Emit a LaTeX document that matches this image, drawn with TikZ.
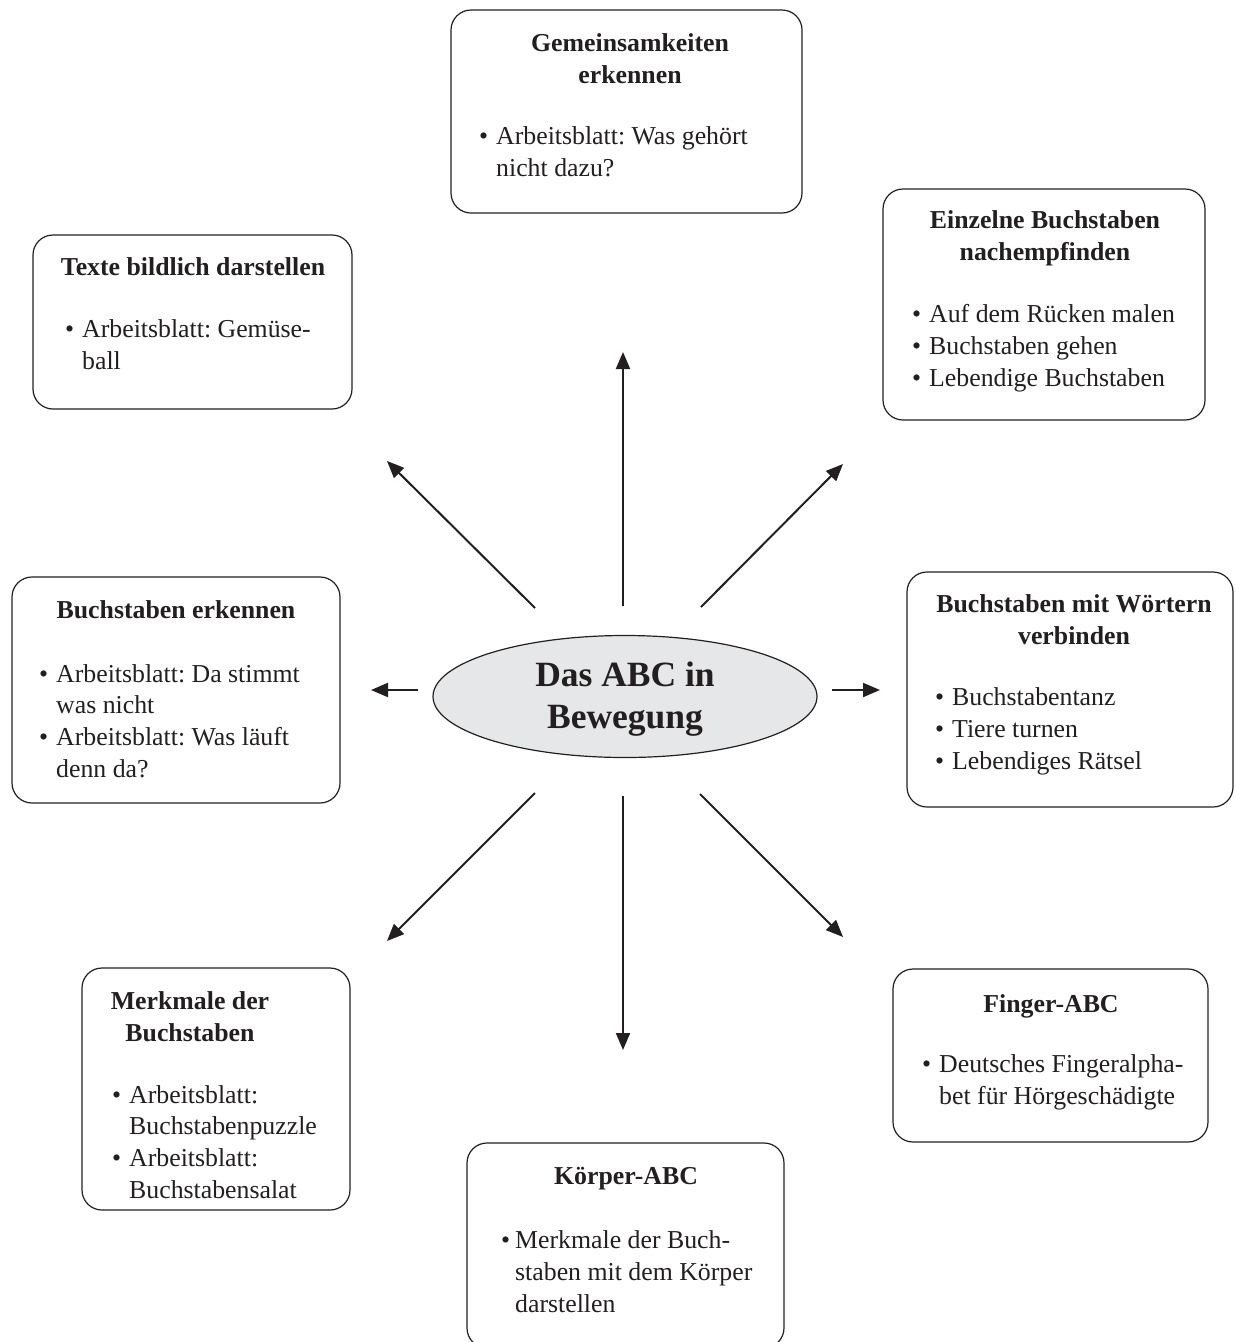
\documentclass[tikz,border=0pt]{standalone}
\usepackage{fontspec}
\setmainfont{Liberation Serif}
\usetikzlibrary{arrows.meta,shapes.geometric}
\frenchspacing
\definecolor{ink}{HTML}{231F20}
\definecolor{ellfill}{HTML}{E6E7E8}
\newcommand\bul{\makebox[17pt][l]{•}}
\newcommand\ind{\hspace*{17pt}}
\newcommand\bulk{\makebox[14pt][l]{•}}
\newcommand\indk{\hspace*{14pt}}
\tikzset{
  box/.style={draw=ink, line width=1.2pt, rounded corners=20pt, inner sep=0pt, fill=white},
  ttl/.style={anchor=base, align=center, inner sep=0pt, text=ink,
              font=\fontsize{25.8}{32}\selectfont\bfseries},
  itms/.style={anchor=base west, align=left, inner sep=0pt, text=ink,
               font=\fontsize{25.8}{31.6}\selectfont},
  arr/.style={draw=ink, line width=2pt, -{Triangle[length=17pt,width=14pt]}},
  centre/.style={ellipse, draw=ink, line width=1.2pt, fill=ellfill,
                 minimum width=384pt, minimum height=122pt, inner sep=0pt}
}
\begin{document}
\begin{tikzpicture}[x=1pt,y=-1pt]
\useasboundingbox (0,0) rectangle (1235,1342);

% centre (base anchor of a multi-line node = last line's baseline)
\node[centre] (c) at (625,696.5) {};
\node[ttl, font=\fontsize{35.5}{42}\selectfont\bfseries] (ct) at (625,728) {Das ABC in\\Bewegung};

% boxes
\node[box, minimum width=351pt, minimum height=203pt] (gem) at (626.5,111.5) {};
\node[ttl] (gemT) at (630,83) {Gemeinsamkeiten\\erkennen};
\node[itms] (gemI) at (479,176) {\bul Arbeitsblatt: Was gehört\\\ind nicht dazu?};

\node[box, minimum width=319pt, minimum height=174pt] (txt) at (192.5,322) {};
\node[ttl] (txtT) at (193,275) {Texte bildlich darstellen};
\node[itms] (txtI) at (65,369) {\bul Arbeitsblatt: Gemüse-\\\ind ball};

\node[box, minimum width=322pt, minimum height=231pt] (ein) at (1044,304.5) {};
\node[ttl] (einT) at (1045,260) {Einzelne Buchstaben\\nachempfinden};
\node[itms] (einI) at (912,386) {\bul Auf dem Rücken malen\\\bul Buchstaben gehen\\\bul Lebendige Buchstaben};

\node[box, minimum width=328pt, minimum height=226pt] (erk) at (176,690) {};
\node[ttl] (erkT) at (176,618) {Buchstaben erkennen};
\node[itms] (erkI) at (39,777) {\bul Arbeitsblatt: Da stimmt\\\ind was nicht\\\bul Arbeitsblatt: Was läuft\\\ind denn da?};

\node[box, minimum width=326pt, minimum height=235pt] (woe) at (1070,689.5) {};
\node[ttl] (woeT) at (1074,644) {Buchstaben mit Wörtern\\verbinden};
\node[itms] (woeI) at (935,769) {\bul Buchstabentanz\\\bul Tiere turnen\\\bul Lebendiges Rätsel};

\node[box, minimum width=268pt, minimum height=242pt] (mer) at (216,1089) {};
\node[ttl] (merT) at (190,1041) {Merkmale der\\Buchstaben};
\node[itms] (merI) at (112,1198) {\bul Arbeitsblatt:\\\ind Buchstabenpuzzle\\\bul Arbeitsblatt:\\\ind Buchstabensalat};

\node[box, minimum width=317pt, minimum height=205pt] (koe) at (625.5,1245.5) {};
\node[ttl] (koeT) at (626,1184) {Körper-ABC};
\node[itms] (koeI) at (501,1312) {\bulk Merkmale der Buch-\\\indk staben mit dem Körper\\\indk darstellen};

\node[box, minimum width=315pt, minimum height=173pt] (fin) at (1050.5,1055.5) {};
\node[ttl] (finT) at (1051,1012) {Finger-ABC};
\node[itms] (finI) at (922,1104) {\bul Deutsches Fingeralpha-\\\ind bet für Hörgeschädigte};

% arrow end points
\coordinate (sN)  at (623,606);  \coordinate (eN)  at (623,352);
\coordinate (sNW) at (535,608);  \coordinate (eNW) at (387,461);
\coordinate (sNE) at (701,607);  \coordinate (eNE) at (843,464);
\coordinate (sW)  at (418,690);  \coordinate (eW)  at (371,690);
\coordinate (sE)  at (832,690);  \coordinate (eE)  at (880,690);
\coordinate (sSW) at (535,793);  \coordinate (eSW) at (387,941);
\coordinate (sS)  at (623,796);  \coordinate (eS)  at (623,1050);
\coordinate (sSE) at (700,794);  \coordinate (eSE) at (843,937);

\draw[arr] (sN) -- (eN);
\draw[arr] (sNW) -- (eNW);
\draw[arr] (sNE) -- (eNE);
\draw[arr] (sW) -- (eW);
\draw[arr] (sE) -- (eE);
\draw[arr] (sSW) -- (eSW);
\draw[arr] (sS) -- (eS);
\draw[arr] (sSE) -- (eSE);
\end{tikzpicture}
\end{document}
